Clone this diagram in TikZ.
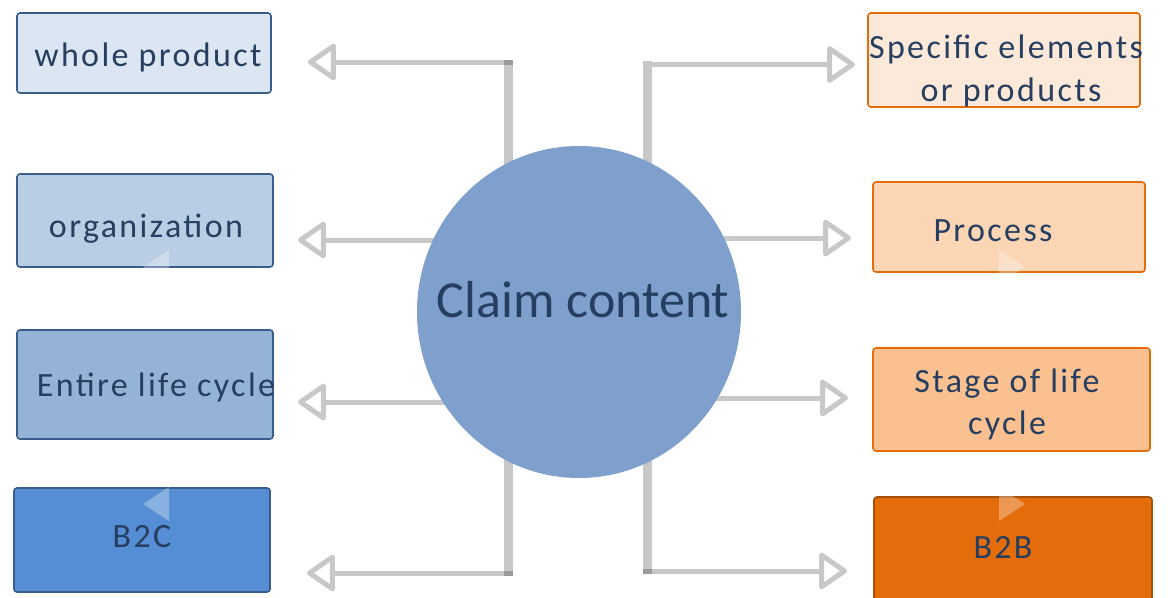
\documentclass[tikz,border=0pt]{standalone}
\usepackage{fontspec}
\usetikzlibrary{arrows.meta,shapes.geometric}
\newfontfamily\boxfont[LetterSpace=7]{Carlito}
\newfontfamily\hubfont{Carlito}

\definecolor{inkblue}{RGB}{38,63,96}
\definecolor{hubfill}{RGB}{127,160,205}
\definecolor{linkgray}{RGB}{200,200,200}
\definecolor{jointgray}{RGB}{155,155,155}
\definecolor{blueedge}{RGB}{56,93,138}
\definecolor{orangeedge}{RGB}{228,108,10}
\definecolor{brownedge}{RGB}{165,81,10}
\definecolor{blueA}{RGB}{220,230,242}
\definecolor{blueB}{RGB}{185,205,229}
\definecolor{blueC}{RGB}{149,179,215}
\definecolor{blueD}{RGB}{85,142,213}
\definecolor{orangeA}{RGB}{253,233,217}
\definecolor{orangeB}{RGB}{252,213,181}
\definecolor{orangeC}{RGB}{250,192,144}
\definecolor{orangeD}{RGB}{228,108,10}

\tikzset{
  trunk/.style={draw=linkgray, line width=9pt, line cap=butt},
  branch/.style={draw=linkgray, line width=5pt, line cap=butt,
    -{Triangle[open, length=30pt, width=40pt, line join=round]}},
  joint/.style={fill=jointgray},
  bluebox/.style={draw=blueedge, line width=1.6pt, rounded corners=3pt},
  orangebox/.style={draw=orangeedge, line width=1.6pt, rounded corners=3pt},
  label/.style={font=\boxfont\fontsize{34}{43}\selectfont, text=inkblue,
    inner sep=0pt, align=center},
  glint/.style={fill=white, fill opacity=0.3},
}

\begin{document}
\begin{tikzpicture}[x=1pt, y=-1pt]
\clip (0,0) rectangle (1175,597);
\fill[white] (0,0) rectangle (1175,597);

% trunk ends, branch joints and arrow tips
\coordinate (Ltop) at (508,60);
\coordinate (Lbot) at (508,575.5);
\coordinate (Rtop) at (647,61);
\coordinate (Rbot) at (647,573.5);

\coordinate (Lj1) at (512.5,62);   \coordinate (Lt1) at (308,62);
\coordinate (Lj2) at (508,240);    \coordinate (Lt2) at (298,240);
\coordinate (Lj3) at (508,402);    \coordinate (Lt3) at (298,402);
\coordinate (Lj4) at (512.5,573);  \coordinate (Lt4) at (307,573);
\coordinate (Rj1) at (651.5,64.5); \coordinate (Rt1) at (855,64.5);
\coordinate (Rj2) at (647,238);    \coordinate (Rt2) at (851,238);
\coordinate (Rj3) at (647,398);    \coordinate (Rt3) at (848,398);
\coordinate (Rj4) at (642.5,571);  \coordinate (Rt4) at (847,571);

% connectors
\draw[trunk] (Ltop) -- (Lbot);
\draw[trunk] (Rtop) -- (Rbot);
\draw[branch] (Lj1) -- (Lt1);
\draw[branch] (Lj2) -- (Lt2);
\draw[branch] (Lj3) -- (Lt3);
\draw[branch] (Lj4) -- (Lt4);
\draw[branch] (Rj1) -- (Rt1);
\draw[branch] (Rj2) -- (Rt2);
\draw[branch] (Rj3) -- (Rt3);
\draw[branch] (Rj4) -- (Rt4);

% darker squares where branch and trunk overlap
\fill[joint] (503.5,59.5) rectangle (512.5,64.5);
\fill[joint] (503.5,570.5) rectangle (512.5,575.5);
\fill[joint] (642.5,568.5) rectangle (651.5,573.5);

% central hub
\node[ellipse, fill=hubfill, minimum width=324pt, minimum height=332pt,
      inner sep=0pt] (hub) at (579,312) {};
\node[font=\hubfont\fontsize{52}{60}\selectfont, text=inkblue, inner sep=0pt,
      anchor=base] (hubtext) at (583,317) {Claim content};

% left column
\draw[bluebox, fill=blueA] (17,13) rectangle (271,93) node[pos=0.5] (boxL1) {};
\draw[bluebox, fill=blueB] (17,174) rectangle (273,267) node[pos=0.5] (boxL2) {};
\draw[bluebox, fill=blueC] (17,330) rectangle (273,439) node[pos=0.5] (boxL3) {};
\draw[bluebox, fill=blueD] (14,488) rectangle (270,592) node[pos=0.5] (boxL4) {};

% right column
\draw[orangebox, fill=orangeA] (868,13) rectangle (1140,107) node[pos=0.5] (boxR1) {};
\draw[orangebox, fill=orangeB] (873,182) rectangle (1145,272) node[pos=0.5] (boxR2) {};
\draw[orangebox, fill=orangeC] (873,348) rectangle (1150,451) node[pos=0.5] (boxR3) {};
\draw[orangebox, draw=brownedge, fill=orangeD] (874,497) rectangle (1152,620) node[pos=0.5] (boxR4) {};

% pale chevrons
\fill[glint] (169,250) -- (169,284) -- (143,267) -- cycle;
\fill[glint] (169,487) -- (169,521) -- (143,504) -- cycle;
\fill[glint] (999,250) -- (999,284) -- (1025,267) -- cycle;
\fill[glint] (999,487) -- (999,521) -- (1025,504) -- cycle;

% labels
\node[label, anchor=base] (txtL1) at (148,66) {whole product};
\node[label, anchor=base] (txtL2) at (146,237) {organization};
\node[label, anchor=base] (txtL3) at (156,396) {Entire life cycle};
\node[label, anchor=base] (txtL4) at (142,547) {B2C};
\node[label, anchor=base] (txtR1a) at (1006,58) {Specific elements};
\node[label, anchor=base] (txtR1b) at (1011,101) {or products};
\node[label, anchor=base] (txtR2) at (993,241) {Process};
\node[label, anchor=base] (txtR3a) at (1007,392) {Stage of life};
\node[label, anchor=base] (txtR3b) at (1007,434) {cycle};
\node[label, anchor=base] (txtR4) at (1003,558) {B2B};
\end{tikzpicture}
\end{document}
